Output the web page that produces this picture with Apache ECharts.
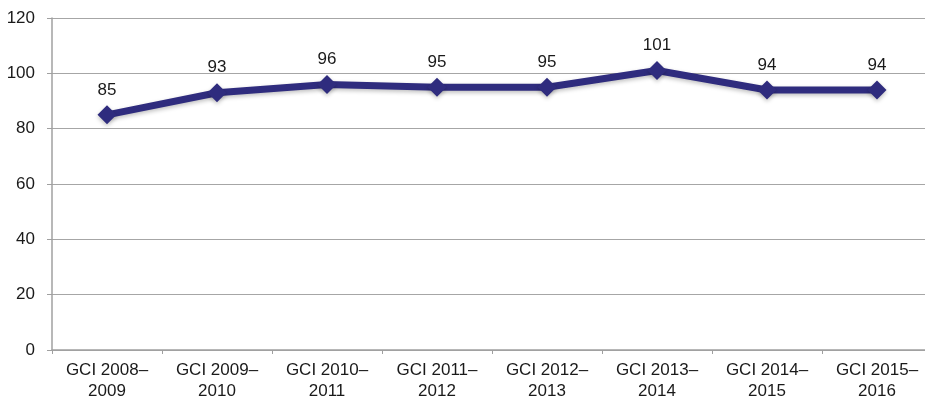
<!DOCTYPE html>
<html>
<head>
<meta charset="utf-8">
<script src="https://cdn.jsdelivr.net/npm/echarts@6/dist/echarts.min.js"></script>
<style>
  html, body { margin: 0; padding: 0; background: #fff; overflow: hidden; }
  #chart { width: 925px; height: 400px; }
</style>
</head>
<body>
<div id="chart"></div>
<script>
// GCI ranking per report edition
const categories = [
  "GCI 2008–\n2009", "GCI 2009–\n2010", "GCI 2010–\n2011", "GCI 2011–\n2012",
  "GCI 2012–\n2013", "GCI 2013–\n2014", "GCI 2014–\n2015", "GCI 2015–\n2016"
];
const rankValues = [85, 93, 96, 95, 95, 101, 94, 94];
const yTicks = { min: 0, max: 120, interval: 20 };

const chart = echarts.init(document.getElementById("chart"));
chart.setOption({
  animation: false,
  textStyle: { fontFamily: "Liberation Sans, Arial, sans-serif" },
  // plot runs a little past the right edge, as in the original
  grid: { left: 52, width: 880, top: 18, bottom: 50, containLabel: false, outerBoundsMode: "none" },
  xAxis: {
    type: "category",
    data: categories,
    boundaryGap: true,
    axisLine: { lineStyle: { color: "#a0a0a0", width: 1.5 } },
    axisTick: { show: true, length: 4, lineStyle: { color: "#a0a0a0" } },
    axisLabel: { color: "#1a1a1a", fontSize: 17, lineHeight: 21, margin: 10, interval: 0 }
  },
  yAxis: {
    type: "value",
    min: yTicks.min,
    max: yTicks.max,
    interval: yTicks.interval,
    axisLine: { show: true, lineStyle: { color: "#a0a0a0", width: 1.5 } },
    axisTick: { show: true, length: 5, lineStyle: { color: "#a0a0a0" } },
    axisLabel: { color: "#1a1a1a", fontSize: 17, margin: 17 },
    splitLine: { lineStyle: { color: "#a6a6a6", width: 1.2 } }
  },
  series: [{
    type: "line",
    data: rankValues,
    symbol: "diamond",
    symbolSize: 19,
    lineStyle: {
      color: "#2f2c7e", width: 7,
      shadowColor: "rgba(0,0,0,0.25)", shadowBlur: 4, shadowOffsetY: 2
    },
    itemStyle: {
      color: "#2f2c7e",
      shadowColor: "rgba(0,0,0,0.25)", shadowBlur: 4, shadowOffsetY: 2
    },
    label: {
      show: true,
      position: "top",
      distance: 7,
      color: "#1a1a1a",
      fontSize: 17
    }
  }]
});
</script>
</body>
</html>
